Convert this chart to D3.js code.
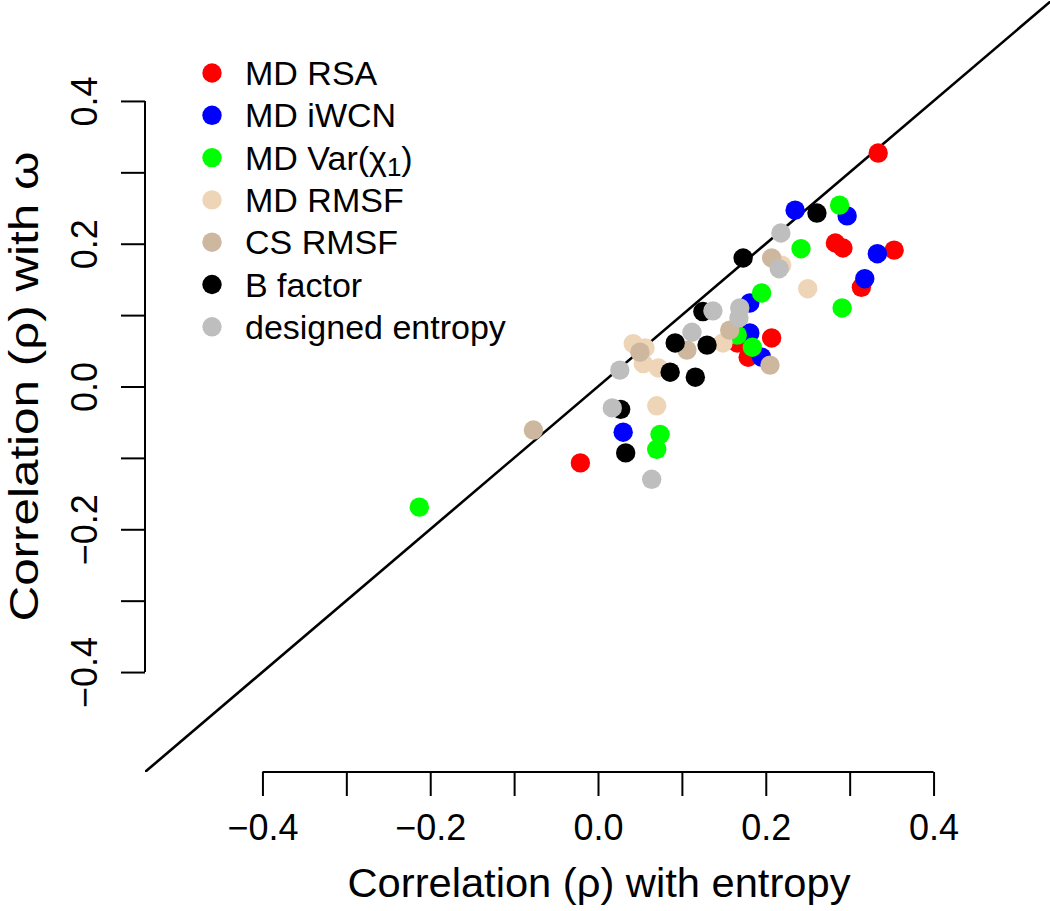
<!DOCTYPE html>
<html>
<head>
<meta charset="utf-8">
<script src="https://cdn.jsdelivr.net/npm/d3@7"></script>
<style>
  html, body { margin: 0; padding: 0; background: #fff; }
  svg { display: block; }
  text { font-family: "Liberation Sans", Arial, Helvetica, sans-serif; fill: #000; }
</style>
</head>
<body>
<svg id="chart" width="1050" height="911"></svg>
<script>
// ---- data ----
const seriesNames = ["MD RSA", "MD iWCN", "MD Var(χ1)", "MD RMSF", "CS RMSF", "B factor", "designed entropy"];
const seriesColors = ["#FF0000", "#0000FF", "#00FF00", "#EED5B7", "#CDB79E", "#000000", "#BEBEBE"];

const mdRSA_x   = [0.334, 0.283, 0.292, 0.353, 0.314, 0.207, 0.179, 0.166, -0.021];
const mdRSA_y   = [0.327, 0.201, 0.194, 0.191, 0.139, 0.068, 0.041, 0.061, -0.107];

const mdIWCN_x  = [0.235, 0.297, 0.333, 0.318, 0.181, 0.181, 0.195, 0.030];
const mdIWCN_y  = [0.247, 0.239, 0.186, 0.151, 0.117, 0.075, 0.041, -0.064];

const mdVar_x   = [0.288, 0.242, 0.195, 0.291, 0.166, 0.184, 0.074, 0.070, -0.213];
const mdVar_y   = [0.254, 0.193, 0.131, 0.110, 0.072, 0.055, -0.067, -0.088, -0.169];

const mdRMSF_x  = [0.250, 0.219, 0.149, 0.042, 0.056, 0.054, 0.072, 0.070];
const mdRMSF_y  = [0.137, 0.170, 0.061, 0.060, 0.054, 0.032, 0.026, -0.027];

const csRMSF_x  = [0.207, 0.157, 0.205, 0.106, 0.050, -0.077];
const csRMSF_y  = [0.180, 0.079, 0.030, 0.051, 0.048, -0.061];

const bFactor_x = [0.261, 0.173, 0.125, 0.092, 0.130, 0.086, 0.116, 0.027, 0.033];
const bFactor_y = [0.243, 0.180, 0.105, 0.061, 0.058, 0.020, 0.013, -0.032, -0.093];

const desEnt_x  = [0.218, 0.216, 0.169, 0.168, 0.137, 0.112, 0.026, 0.017, 0.064];
const desEnt_y  = [0.215, 0.165, 0.110, 0.096, 0.106, 0.076, 0.023, -0.030, -0.130];

const xTicks = [-0.4, -0.3, -0.2, -0.1, 0.0, 0.1, 0.2, 0.3, 0.4];
const yTicks = [-0.4, -0.3, -0.2, -0.1, 0.0, 0.1, 0.2, 0.3, 0.4];
const tickLabels = ["−0.4", "", "−0.2", "", "0.0", "", "0.2", "", "0.4"];

const xTitle = "Correlation (ρ) with entropy";
const yTitle = "Correlation (ρ) with ω";

// ---- layout ----
const svg = d3.select("#chart");
const plot = { left: 145, right: 1051, top: 1, bottom: 772 };
const x = d3.scaleLinear().domain([-0.54, 0.54]).range([plot.left, plot.right]);
const y = d3.scaleLinear().domain([-0.54, 0.54]).range([plot.bottom, plot.top]);

const allSeries = [
  [mdRSA_x, mdRSA_y], [mdIWCN_x, mdIWCN_y], [mdVar_x, mdVar_y],
  [mdRMSF_x, mdRMSF_y], [csRMSF_x, csRMSF_y], [bFactor_x, bFactor_y], [desEnt_x, desEnt_y]
];

// clip for diagonal
svg.append("defs").append("clipPath").attr("id", "plotclip")
  .append("rect").attr("x", plot.left).attr("y", plot.top)
  .attr("width", plot.right - plot.left).attr("height", plot.bottom - plot.top);

// diagonal y = x
svg.append("line")
  .attr("clip-path", "url(#plotclip)")
  .attr("x1", x(-0.54)).attr("y1", y(-0.54))
  .attr("x2", x(0.54)).attr("y2", y(0.54))
  .attr("stroke", "#000").attr("stroke-width", 2.6);

// points
const pts = svg.append("g");
allSeries.forEach((s, i) => {
  const data = s[0].map((v, j) => ({ x: v, y: s[1][j] }));
  pts.selectAll(null).data(data).enter().append("circle")
    .attr("cx", d => x(d.x)).attr("cy", d => y(d.y)).attr("r", 9.7)
    .attr("fill", seriesColors[i]);
});

// x axis
const xAxis = d3.axisBottom(x).tickValues(xTicks).tickSize(24).tickPadding(18)
  .tickFormat((d, i) => tickLabels[i]);
const gx = svg.append("g").attr("transform", `translate(0,${plot.bottom})`).call(xAxis);
gx.select(".domain").attr("d", `M${x(-0.4)},0H${x(0.4)}`).attr("stroke-width", 2);
gx.selectAll(".tick line").attr("stroke-width", 2);
gx.selectAll(".tick text").style("font-size", "36px").style("font-family", '"Liberation Sans", Arial, sans-serif');

// y axis
const yAxis = d3.axisLeft(y).tickValues(yTicks).tickSize(24).tickPadding(0)
  .tickFormat((d, i) => tickLabels[i]);
const gy = svg.append("g").attr("transform", `translate(${plot.left},0)`).call(yAxis);
gy.select(".domain").attr("d", `M0,${y(-0.4)}V${y(0.4)}`).attr("stroke-width", 2);
gy.selectAll(".tick line").attr("stroke-width", 2);
gy.selectAll(".tick text")
  .attr("x", null).attr("dy", null)
  .attr("transform", "translate(-48,0) rotate(-90)")
  .attr("text-anchor", "middle")
  .style("font-size", "36px").style("font-family", '"Liberation Sans", Arial, sans-serif');

// axis titles
svg.append("text").attr("x", 599).attr("y", 897).attr("text-anchor", "middle")
  .style("font-size", "40px").attr("textLength", 503).attr("lengthAdjust", "spacingAndGlyphs")
  .text(xTitle);
svg.append("text").attr("transform", `translate(38,${386.5}) rotate(-90)`).attr("text-anchor", "middle")
  .style("font-size", "40px").attr("textLength", 470).attr("lengthAdjust", "spacingAndGlyphs")
  .text(yTitle);

// legend
const leg = svg.append("g");
seriesNames.forEach((name, i) => {
  const cy = 73 + i * 42.3;
  leg.append("circle").attr("cx", 212).attr("cy", cy).attr("r", 9.7).attr("fill", seriesColors[i]);
  const t = leg.append("text").attr("x", 245).attr("y", cy + 12).style("font-size", "34px");
  if (name === "MD Var(χ1)") {
    t.append("tspan").text("MD Var(χ");
    t.append("tspan").attr("baseline-shift", "-22%").style("font-size", "26px").text("1");
    t.append("tspan").text(")");
  } else {
    t.text(name);
  }
});
</script>
</body>
</html>
